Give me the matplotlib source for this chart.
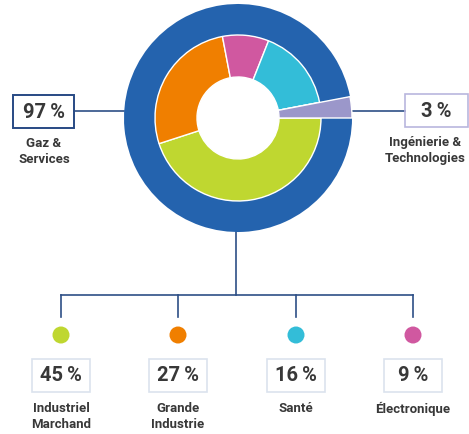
import matplotlib.pyplot as plt
from matplotlib.patches import Rectangle, Circle

plt.rcParams['font.family'] = ['Roboto', 'DejaVu Sans']

# data
divisions = ['Gaz &\nServices', 'Ingénierie &\nTechnologies']
division_share = [97, 3]
division_colors = ['#2463ae', '#9b97ca']

markets = ['Industriel\nMarchand', 'Grande\nIndustrie', 'Électronique', 'Santé']
market_share = [45, 27, 9, 16]
market_colors = ['#bfd730', '#f07f00', '#d058a0', '#33bdd8']

# bottom row order (left to right)
row_order = ['Industriel\nMarchand', 'Grande\nIndustrie', 'Santé', 'Électronique']

W, H = 469, 435
TXT = '#383838'
LINE = '#2d4f86'

fig = plt.figure(figsize=(W / 100, H / 100), dpi=100)
ax = fig.add_axes([0, 0, 1, 1])


def Y(y):
    # pixel row (from top) to data y
    return H - y


cx, cy = 238, Y(119)
r_out, r_mid, r_hole = 114, 83, 41

# outer ring: divisions
outer, _ = ax.pie(division_share, colors=division_colors, radius=r_out, center=(cx, cy),
                  startangle=0, counterclock=False,
                  wedgeprops=dict(width=r_out - r_mid, linewidth=0))
# the small division is drawn through both rings
outer[1].set_radius(r_out)
outer[1].set_width(r_out - r_hole)
outer[1].set_edgecolor('white')
outer[1].set_linewidth(1)
outer[1].set_zorder(3)

# inner ring: markets of the main division (+ the small division's slot)
ax.pie(market_share + [division_share[1]], colors=market_colors + [division_colors[1]],
       radius=r_mid, center=(cx, cy), startangle=0, counterclock=False,
       wedgeprops=dict(width=r_mid - r_hole, edgecolor='white', linewidth=1))

# connectors to the top boxes
ax.plot([74, cx - r_out], [Y(112), Y(112)], color=LINE, lw=1.2, zorder=0)
ax.plot([cx + r_out, 405], [Y(112), Y(112)], color=LINE, lw=1.2, zorder=0)

box_specs = [(13, 96, 61, 33, '#284a84', 1.4, 44), (405, 95, 63, 33, '#b9b6de', 1.2, 425)]
for (bx, by, bw, bh, ec, lw, lx), name, val in zip(box_specs, divisions, division_share):
    ax.add_patch(Rectangle((bx, Y(by + bh)), bw, bh, fill=False, ec=ec, lw=lw))
    ax.text(bx + bw / 2, Y(by + bh / 2), f'{val}\u2009%', ha='center', va='center',
            fontsize=14.5, fontweight='bold', color=TXT)
    ax.text(lx, Y(by + bh + 8), name, ha='center', va='top',
            fontsize=9.5, fontweight='bold', color=TXT, linespacing=1.3)

# tree to the bottom row
col_x = [61, 178, 296, 413]
ax.plot([236, 236], [cy - r_out, Y(296)], color=LINE, lw=1.2, zorder=0)
ax.plot([col_x[0], col_x[-1]], [Y(296), Y(296)], color=LINE, lw=1.2)

for x, name in zip(col_x, row_order):
    i = markets.index(name)
    ax.plot([x, x], [Y(296), Y(318)], color=LINE, lw=1.2)
    ax.add_patch(Circle((x, Y(336)), 8.5, color=market_colors[i], lw=0))
    ax.add_patch(Rectangle((x - 29, Y(393)), 58, 33, fill=False, ec='#dbe3ee', lw=1.2))
    ax.text(x, Y(376), f'{market_share[i]}\u2009%', ha='center', va='center',
            fontsize=14.5, fontweight='bold', color=TXT)
    ax.text(x, Y(402), name, ha='center', va='top',
            fontsize=9.5, fontweight='bold', color=TXT, linespacing=1.3)

ax.set_xlim(0, W)
ax.set_ylim(0, H)
ax.set_aspect('equal')
ax.axis('off')

fig.savefig('out.png', dpi=100)
